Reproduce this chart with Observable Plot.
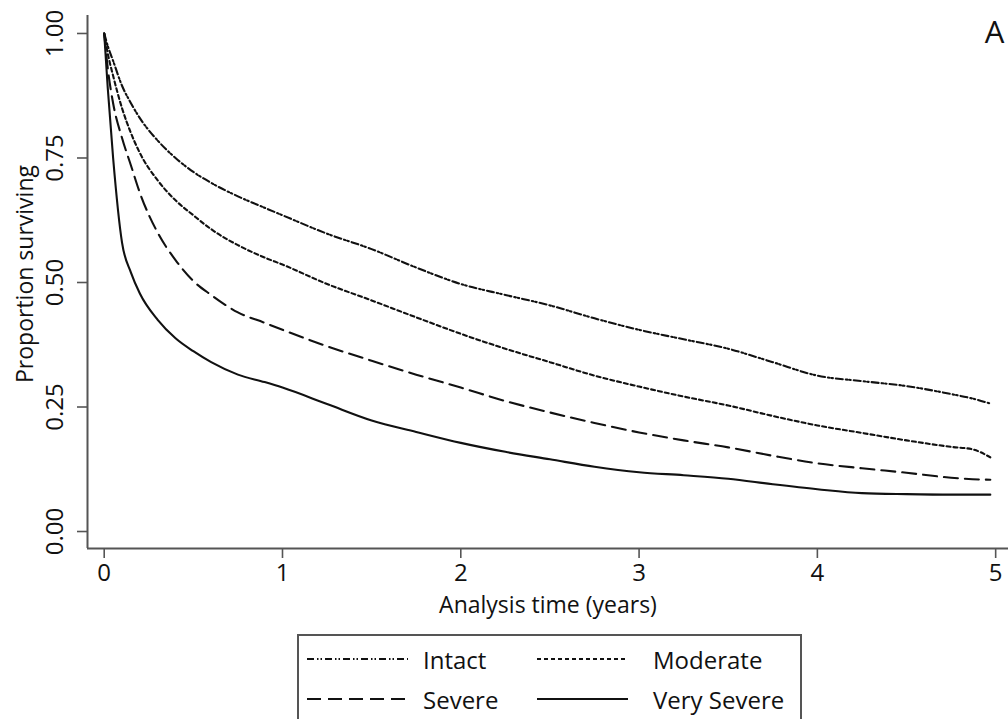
<!DOCTYPE html>
<html>
<head>
<meta charset="utf-8">
<script src="https://cdn.jsdelivr.net/npm/d3@7"></script>
<script src="https://cdn.jsdelivr.net/npm/@observablehq/plot@0.6"></script>
<style>
  html, body { margin: 0; padding: 0; background: #fff; overflow: hidden; }
  #wrap { position: relative; width: 1008px; height: 719px; font-family: "Open Sans", sans-serif; color: #111; }
  #legend { position: absolute; left: 297px; top: 634px; width: 505px; height: 95px; border: 2px solid #555; box-sizing: border-box; }
  .item { position: absolute; display: flex; align-items: center; font-size: 24px; height: 30px; }
</style>
</head>
<body>
<div id="wrap"></div>
<script>
// ---- data ----
const times = [0,0.02,0.05,0.1,0.15,0.2,0.3,0.4,0.5,0.6,0.75,0.9,1.0,1.25,1.5,1.75,2.0,2.25,2.5,2.75,3.0,3.25,3.5,3.75,4.0,4.25,4.5,4.75,4.87,4.97];
const intact = [1,0.975,0.945,0.895,0.86,0.83,0.785,0.75,0.722,0.70,0.673,0.65,0.635,0.598,0.567,0.53,0.497,0.475,0.454,0.428,0.405,0.386,0.367,0.34,0.313,0.302,0.292,0.276,0.267,0.257];
const moderate = [1,0.96,0.915,0.85,0.80,0.76,0.705,0.665,0.635,0.607,0.575,0.55,0.536,0.497,0.464,0.43,0.397,0.367,0.34,0.313,0.291,0.271,0.253,0.232,0.213,0.198,0.183,0.170,0.165,0.149];
const severe = [1,0.93,0.86,0.79,0.735,0.68,0.6,0.545,0.503,0.475,0.44,0.419,0.405,0.372,0.343,0.315,0.289,0.262,0.239,0.218,0.199,0.183,0.169,0.152,0.137,0.127,0.118,0.108,0.105,0.104];
const verySevere = [1,0.89,0.75,0.58,0.52,0.478,0.425,0.388,0.362,0.34,0.315,0.30,0.289,0.256,0.223,0.20,0.178,0.16,0.145,0.13,0.119,0.113,0.106,0.095,0.085,0.077,0.075,0.074,0.074,0.074];
const seriesNames = ["Intact", "Moderate", "Severe", "Very Severe"];
const xTicks = [0, 1, 2, 3, 4, 5];
const yTicks = [0, 0.25, 0.5, 0.75, 1];
const xTitle = "Analysis time (years)";
const yTitle = "Proportion surviving";
const panelLabel = "A";

// ---- styles ----
const dashes = {
  "Intact": "7,3,1.5,2,1.5,3",
  "Moderate": "4,3",
  "Severe": "14,7",
  "Very Severe": null
};
const valuesBy = {"Intact": intact, "Moderate": moderate, "Severe": severe, "Very Severe": verySevere};
const rows = seriesNames.flatMap(s => times.map((t, i) => ({series: s, t, s: valuesBy[s][i]})));

const xDom = [-0.0937, 5.072];
const yDom = [-0.0341, 1.0361];
const ink = "#111";
const axisInk = "#555";

const lineMarks = seriesNames.map(name => Plot.line(rows.filter(d => d.series === name), {
  x: "t", y: "s", stroke: ink, strokeWidth: 2.1,
  strokeDasharray: dashes[name] || undefined, curve: "monotone-x"
}));

const chart = Plot.plot({
  width: 1008,
  height: 625,
  marginLeft: 87,
  marginRight: 0,
  marginTop: 15,
  marginBottom: 77,
  style: {background: "#fff", fontFamily: "'Open Sans', sans-serif", color: ink, overflow: "visible"},
  x: {domain: xDom},
  y: {domain: yDom},
  marks: [
    Plot.axisX(xTicks, {tickSize: 10, tickPadding: 5, fontSize: 24, tickFormat: d3.format("d"), label: null, stroke: axisInk, strokeWidth: 1.6, fill: ink}),
    Plot.axisY(yTicks, {tickSize: 10, tickFormat: () => "", label: null, stroke: axisInk, strokeWidth: 1.6}),
    Plot.text(yTicks, {x: xDom[0], y: d => d, text: d => d3.format(".2f")(d), rotate: -90, dx: -32,
      textAnchor: "middle", lineAnchor: "middle", fontSize: 24, fill: ink}),
    Plot.ruleX([xDom[0]], {stroke: axisInk, strokeWidth: 2}),
    Plot.ruleY([yDom[0]], {stroke: axisInk, strokeWidth: 2}),
    ...lineMarks,
    Plot.text([xTitle], {frameAnchor: "bottom", dy: 57, textAnchor: "middle", lineAnchor: "middle", fontSize: 23, fill: ink}),
    Plot.text([yTitle], {frameAnchor: "left", rotate: -90, dx: -62, dy: -8, textAnchor: "middle", lineAnchor: "middle", fontSize: 23, fill: ink}),
    Plot.text([panelLabel], {frameAnchor: "top-right", dx: -14, dy: 18, textAnchor: "middle", lineAnchor: "middle", fontSize: 31, fill: ink})
  ]
});

const wrap = document.getElementById("wrap");
wrap.appendChild(chart);

// ---- legend (HTML text, SVG line samples) ----
const legend = document.createElement("div");
legend.id = "legend";
const layout = [
  {name: "Intact", left: 8, top: 8, len: 101, gap: 15},
  {name: "Moderate", left: 238, top: 8, len: 91, gap: 25},
  {name: "Severe", left: 8, top: 48, len: 101, gap: 15},
  {name: "Very Severe", left: 238, top: 48, len: 91, gap: 25}
];
layout.forEach(o => {
  const item = document.createElement("div");
  item.className = "item";
  item.style.left = o.left + "px";
  item.style.top = o.top + "px";
  const svg = document.createElementNS("http://www.w3.org/2000/svg", "svg");
  svg.setAttribute("width", o.len);
  svg.setAttribute("height", 10);
  svg.style.marginRight = o.gap + "px";
  const ln = document.createElementNS("http://www.w3.org/2000/svg", "line");
  ln.setAttribute("x1", 0); ln.setAttribute("x2", o.len);
  ln.setAttribute("y1", 5); ln.setAttribute("y2", 5);
  ln.setAttribute("stroke", ink); ln.setAttribute("stroke-width", 2.1);
  if (dashes[o.name]) ln.setAttribute("stroke-dasharray", dashes[o.name]);
  svg.appendChild(ln);
  item.appendChild(svg);
  const span = document.createElement("span");
  span.textContent = o.name;
  item.appendChild(span);
  legend.appendChild(item);
});
wrap.appendChild(legend);
</script>
</body>
</html>
